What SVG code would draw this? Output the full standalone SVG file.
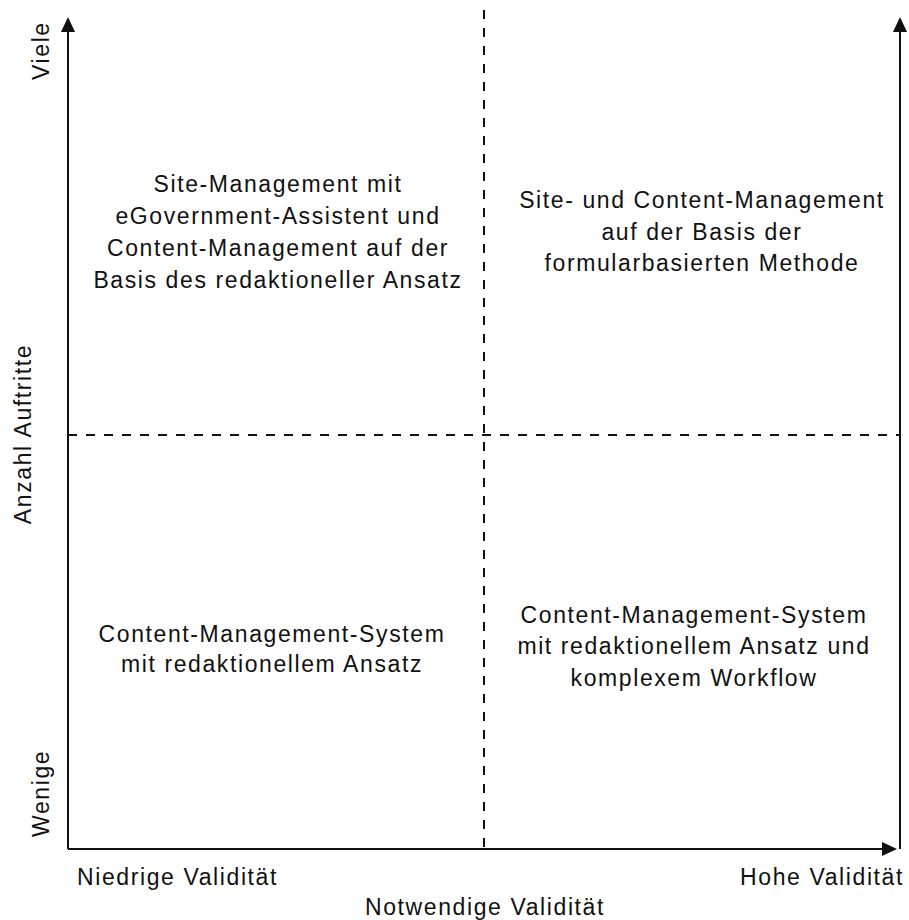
<svg xmlns="http://www.w3.org/2000/svg" width="909" height="920" viewBox="0 0 909 920">
  <defs>
    <style>
      .lbl { font-family: "Liberation Sans", Arial, sans-serif; font-size: 23px; letter-spacing: 1.6px; fill: #111; }
      .mid { text-anchor: middle; }
      .axis { stroke: #111; stroke-width: 2; fill: none; }
      .grid { stroke: #111; stroke-width: 2; fill: none; stroke-dasharray: 9 9; }
    </style>
    <marker id="arrow" viewBox="0 0 15 14" refX="13" refY="7" markerWidth="15" markerHeight="14" orient="auto" markerUnits="userSpaceOnUse">
      <path d="M0,0 L15,7 L0,14 z" fill="#111"/>
    </marker>
  </defs>
  <rect width="909" height="920" fill="#fff"/>

  <!-- axes and quadrant dividers -->
  <g id="connectors">
    <line class="axis" x1="68" y1="849" x2="68" y2="19" marker-end="url(#arrow)"/>
    <line class="axis" x1="68" y1="849" x2="895" y2="849" marker-end="url(#arrow)"/>
    <line class="axis" x1="900" y1="849" x2="900" y2="19" marker-end="url(#arrow)"/>
    <line class="grid" x1="484" y1="10" x2="484" y2="848"/>
    <line class="grid" x1="68" y1="435" x2="900" y2="435"/>
  </g>

  <!-- quadrant: many occurrences, low validity -->
  <g id="q-top-left">
    <text class="lbl mid" x="278" y="192">Site-Management mit</text>
    <text class="lbl mid" x="278" y="224">eGovernment-Assistent und</text>
    <text class="lbl mid" x="278" y="256">Content-Management auf der</text>
    <text class="lbl mid" x="278" y="288">Basis des redaktioneller Ansatz</text>
  </g>

  <!-- quadrant: many occurrences, high validity -->
  <g id="q-top-right">
    <text class="lbl mid" x="702" y="208">Site- und Content-Management</text>
    <text class="lbl mid" x="702" y="240">auf der Basis der</text>
    <text class="lbl mid" x="702" y="271">formularbasierten Methode</text>
  </g>

  <!-- quadrant: few occurrences, low validity -->
  <g id="q-bottom-left">
    <text class="lbl mid" x="272" y="642">Content-Management-System</text>
    <text class="lbl mid" x="272" y="672">mit redaktionellem Ansatz</text>
  </g>

  <!-- quadrant: few occurrences, high validity -->
  <g id="q-bottom-right">
    <text class="lbl mid" x="694" y="623">Content-Management-System</text>
    <text class="lbl mid" x="694" y="654">mit redaktionellem Ansatz und</text>
    <text class="lbl mid" x="694" y="686">komplexem Workflow</text>
  </g>

  <!-- axis labels -->
  <g id="axis-labels">
    <text class="lbl" x="77" y="885">Niedrige Validität</text>
    <text class="lbl" x="904" y="885" text-anchor="end">Hohe Validität</text>
    <text class="lbl mid" x="485" y="915">Notwendige Validität</text>
    <text class="lbl" transform="translate(49,80) rotate(-90)">Viele</text>
    <text class="lbl" transform="translate(49,837) rotate(-90)">Wenige</text>
    <text class="lbl mid" transform="translate(31,434) rotate(-90)">Anzahl Auftritte</text>
  </g>
</svg>
